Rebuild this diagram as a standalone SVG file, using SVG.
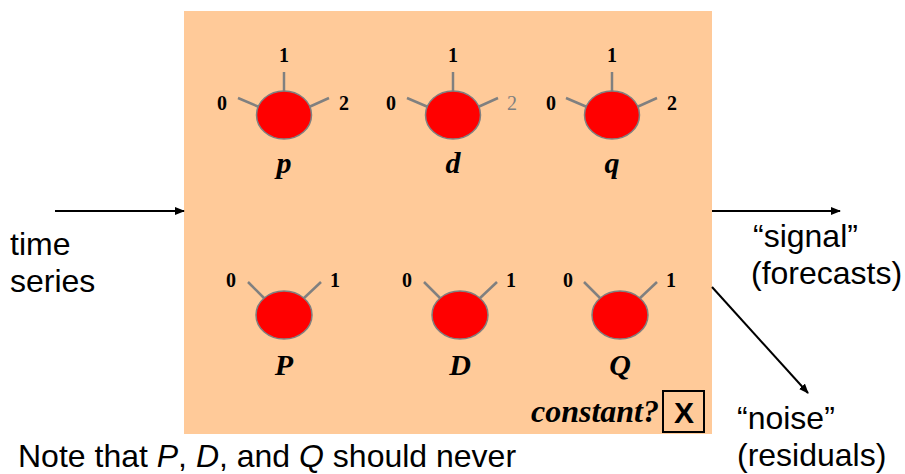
<svg xmlns="http://www.w3.org/2000/svg" width="905" height="474" viewBox="0 0 905 474">
<style>
.ball{fill:#FF0000;stroke:#808080;stroke-width:1.5}
.spoke{stroke:#808080;stroke-width:2.5;fill:none}
.num{font-family:"Liberation Serif",serif;font-weight:bold;font-size:20px;fill:#000;text-anchor:middle}
.gray{fill:#808080;font-weight:normal}
.lbl{font-family:"Liberation Serif",serif;font-weight:bold;font-style:italic;font-size:30px;fill:#000;text-anchor:middle}
.sans{font-family:"Liberation Sans",Arial,sans-serif;font-size:32px;fill:#000}
.conn{stroke:#000;stroke-width:2;fill:none;marker-end:url(#ah)}
</style>
<defs>
<marker id="ah" markerWidth="10" markerHeight="8" refX="9" refY="4" orient="auto" markerUnits="userSpaceOnUse">
<path d="M0,0 L10,4 L0,8 z" fill="#000"/>
</marker>
</defs>
<rect x="184" y="11" width="528" height="423" fill="#FFCA99"/>
<g id="connectors">
<line class="conn" x1="55" y1="211" x2="184" y2="211"/>
<line class="conn" x1="712" y1="211" x2="840" y2="211"/>
<line class="conn" x1="712" y1="287" x2="808" y2="393"/>
</g>
<g id="node-p">
<line class="spoke" x1="284" y1="72" x2="284" y2="92"/>
<line class="spoke" x1="238" y1="98" x2="259" y2="107"/>
<line class="spoke" x1="309" y1="107" x2="329" y2="98"/>
<ellipse class="ball" cx="284" cy="115" rx="27.5" ry="24"/>
<text class="num" x="284" y="62">1</text>
<text class="num" x="222" y="110">0</text>
<text class="num" x="344" y="110">2</text>
<text class="lbl" x="284" y="173">p</text>
</g>
<g id="node-d">
<line class="spoke" x1="453" y1="72" x2="453" y2="92"/>
<line class="spoke" x1="407" y1="98" x2="428" y2="107"/>
<line class="spoke" x1="478" y1="107" x2="498" y2="98"/>
<ellipse class="ball" cx="453" cy="115" rx="27.5" ry="24"/>
<text class="num" x="453" y="62">1</text>
<text class="num" x="391" y="110">0</text>
<text class="num gray" x="512" y="110">2</text>
<text class="lbl" x="453" y="173">d</text>
</g>
<g id="node-q">
<line class="spoke" x1="612" y1="72" x2="612" y2="92"/>
<line class="spoke" x1="566" y1="98" x2="587" y2="107"/>
<line class="spoke" x1="637" y1="107" x2="657" y2="98"/>
<ellipse class="ball" cx="612" cy="115" rx="27.5" ry="24"/>
<text class="num" x="612" y="62">1</text>
<text class="num" x="551" y="110">0</text>
<text class="num" x="672" y="110">2</text>
<text class="lbl" x="612" y="173">q</text>
</g>
<g id="node-P">
<line class="spoke" x1="248" y1="282" x2="265" y2="299"/>
<line class="spoke" x1="303" y1="299" x2="321" y2="282"/>
<ellipse class="ball" cx="284" cy="315" rx="28" ry="24"/>
<text class="num" x="231" y="287">0</text>
<text class="num" x="335" y="287">1</text>
<text class="lbl" x="284" y="375">P</text>
</g>
<g id="node-D">
<line class="spoke" x1="424" y1="282" x2="441" y2="299"/>
<line class="spoke" x1="479" y1="299" x2="497" y2="282"/>
<ellipse class="ball" cx="460" cy="315" rx="28" ry="24"/>
<text class="num" x="407" y="287">0</text>
<text class="num" x="511" y="287">1</text>
<text class="lbl" x="460" y="375">D</text>
</g>
<g id="node-Q">
<line class="spoke" x1="584" y1="282" x2="601" y2="299"/>
<line class="spoke" x1="639" y1="299" x2="657" y2="282"/>
<ellipse class="ball" cx="620" cy="315" rx="28" ry="24"/>
<text class="num" x="568" y="287">0</text>
<text class="num" x="671" y="287">1</text>
<text class="lbl" x="620" y="375">Q</text>
</g>
<g id="constant">
<text x="659" y="422" font-family="Liberation Serif,serif" font-weight="bold" font-style="italic" font-size="32" text-anchor="end">constant?</text>
<rect x="663" y="391" width="41" height="41" fill="none" stroke="#000" stroke-width="2"/>
<text x="684" y="423" font-family="Liberation Sans,Arial,sans-serif" font-weight="bold" font-size="30" text-anchor="middle">X</text>
</g>
<g id="labels">
<text class="sans" x="10" y="255">time</text>
<text class="sans" x="10" y="292">series</text>
<text class="sans" x="753" y="247">“signal”</text>
<text class="sans" x="751" y="284">(forecasts)</text>
<text class="sans" x="737" y="429">“noise”</text>
<text class="sans" x="737" y="466">(residuals)</text>
<text class="sans" x="18" y="467">Note that <tspan font-style="italic">P</tspan>, <tspan font-style="italic">D</tspan>, and <tspan font-style="italic">Q</tspan> should never</text>
</g>
</svg>
